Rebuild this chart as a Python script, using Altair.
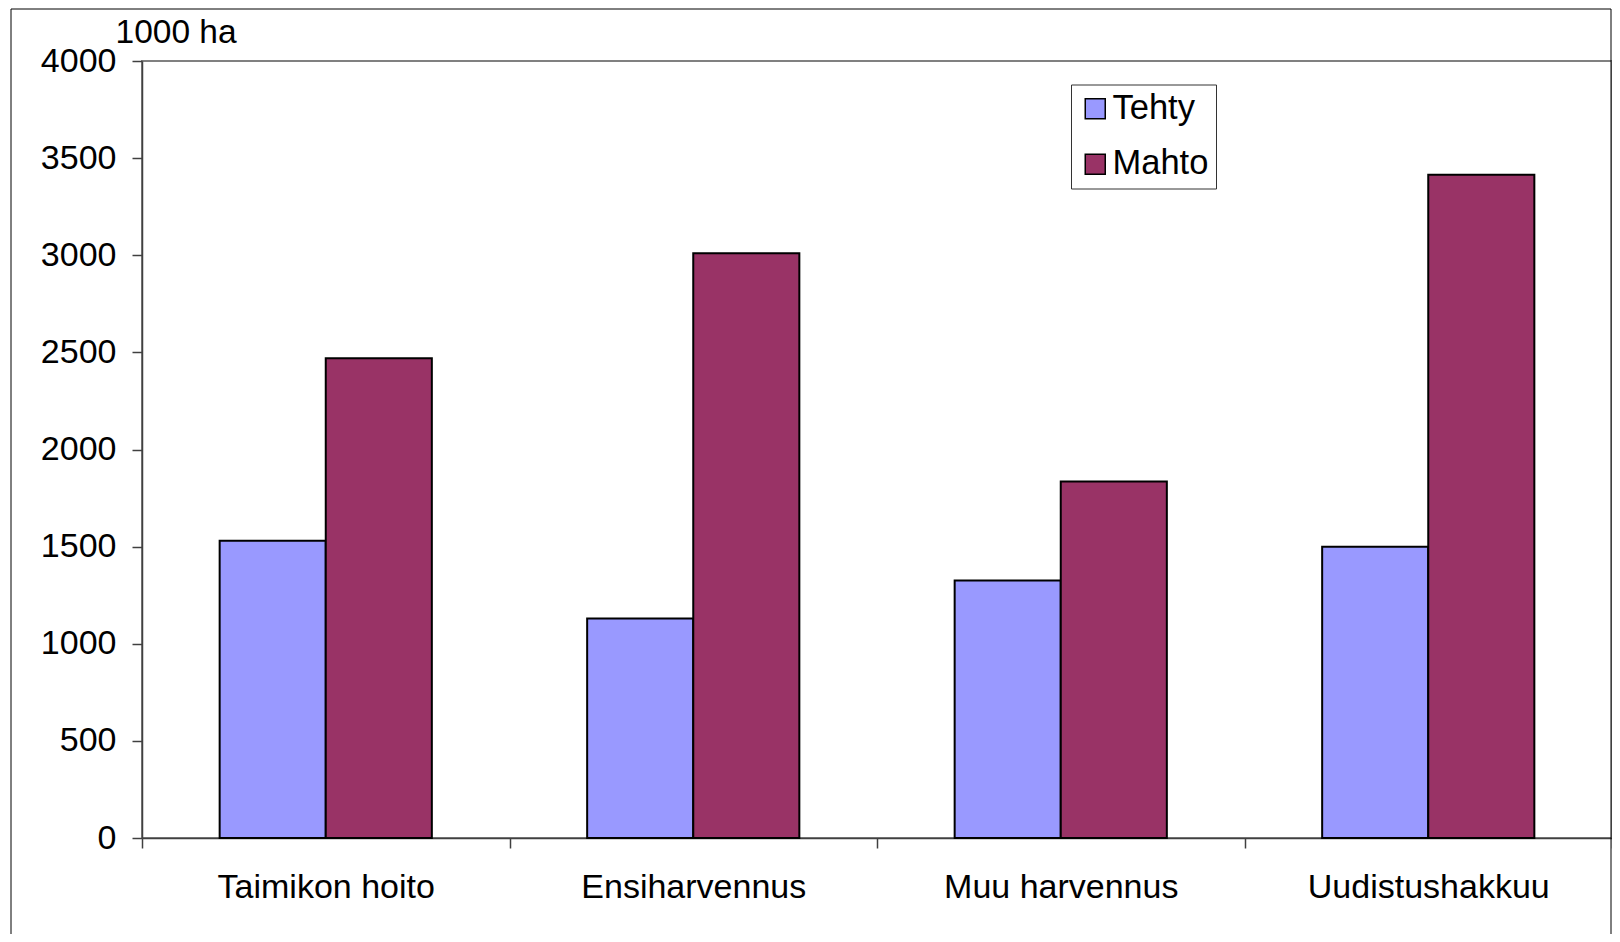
import altair as alt
import pandas as pd

# ---- data ----
categories = ["Taimikon hoito", "Ensiharvennus", "Muu harvennus", "Uudistushakkuu"]
series = ["Tehty", "Mahto"]
tehty = [1530, 1130, 1325, 1500]
mahto = [2470, 3010, 1835, 3415]
y_ticks = [0, 500, 1000, 1500, 2000, 2500, 3000, 3500, 4000]
colors = ["#9999FF", "#993366"]

rows = []
for c, t, m in zip(categories, tehty, mahto):
    rows.append({"kategoria": c, "sarja": series[0], "arvo": t})
    rows.append({"kategoria": c, "sarja": series[1], "arvo": m})
df = pd.DataFrame(rows)

FONT = "Liberation Sans"
FS = 34

bars = alt.Chart(df).mark_bar(stroke="black", strokeWidth=2).encode(
    x=alt.X(
        "kategoria:N",
        sort=categories,
        scale=alt.Scale(paddingInner=0, paddingOuter=0),
        axis=alt.Axis(
            title=None, labelAngle=0, labelFontSize=FS, labelFont=FONT,
            labelColor="black", labelPadding=22.5, labelLimit=0, tickSize=10,
            tickBand="extent",
            domainColor="#404040", tickColor="#404040", domainWidth=1.5, tickWidth=1.5,
        ),
    ),
    xOffset=alt.XOffset(
        "sarja:N", sort=series, scale=alt.Scale(paddingInner=0, paddingOuter=0.732)
    ),
    y=alt.Y(
        "arvo:Q",
        scale=alt.Scale(domain=[0, 4000], nice=False),
        axis=alt.Axis(
            values=y_ticks, format="d", grid=False, title="1000 ha", titleAngle=0,
            titleX=-27, titleY=-19, titleAlign="left", titleBaseline="alphabetic",
            titleFontSize=33.5, titleFont=FONT, titleFontWeight="normal", titleColor="black",
            labelFontSize=FS, labelFont=FONT, labelColor="black", labelPadding=16,
            tickSize=10, domainColor="#404040", tickColor="#404040",
            domainWidth=1.5, tickWidth=1.5,
        ),
    ),
    color=alt.Color(
        "sarja:N",
        sort=series,
        scale=alt.Scale(domain=series, range=colors),
        legend=alt.Legend(
            title=None, orient="none", legendX=929, legendY=23.5,
            fillColor="white", strokeColor="#333333", padding=7,
            symbolType="square", symbolSize=400, symbolStrokeColor="black",
            symbolStrokeWidth=1.5, symbolOpacity=1,
            labelFontSize=34.5, labelFont=FONT, labelColor="black",
            labelOffset=0, rowPadding=20.5,
        ),
    ),
)

frame = alt.Chart(pd.DataFrame({"d": [0]})).mark_rect(
    fillOpacity=0, stroke="black", strokeWidth=1
).encode(
    x=alt.value(-131), x2=alt.value(1469), y=alt.value(-52), y2=alt.value(890)
)

chart = alt.layer(frame, bars).properties(
    width=1470,
    height=777,
    padding={"left": 134, "top": 53, "right": 0, "bottom": 96},
    autosize=alt.AutoSizeParams(type="none"),
    background="white",
).configure_view(
    stroke="#808080", strokeWidth=2
).configure_legend(
    strokeWidth=1
)

chart.save("out.html", embed_options={"renderer": "svg", "actions": False})
